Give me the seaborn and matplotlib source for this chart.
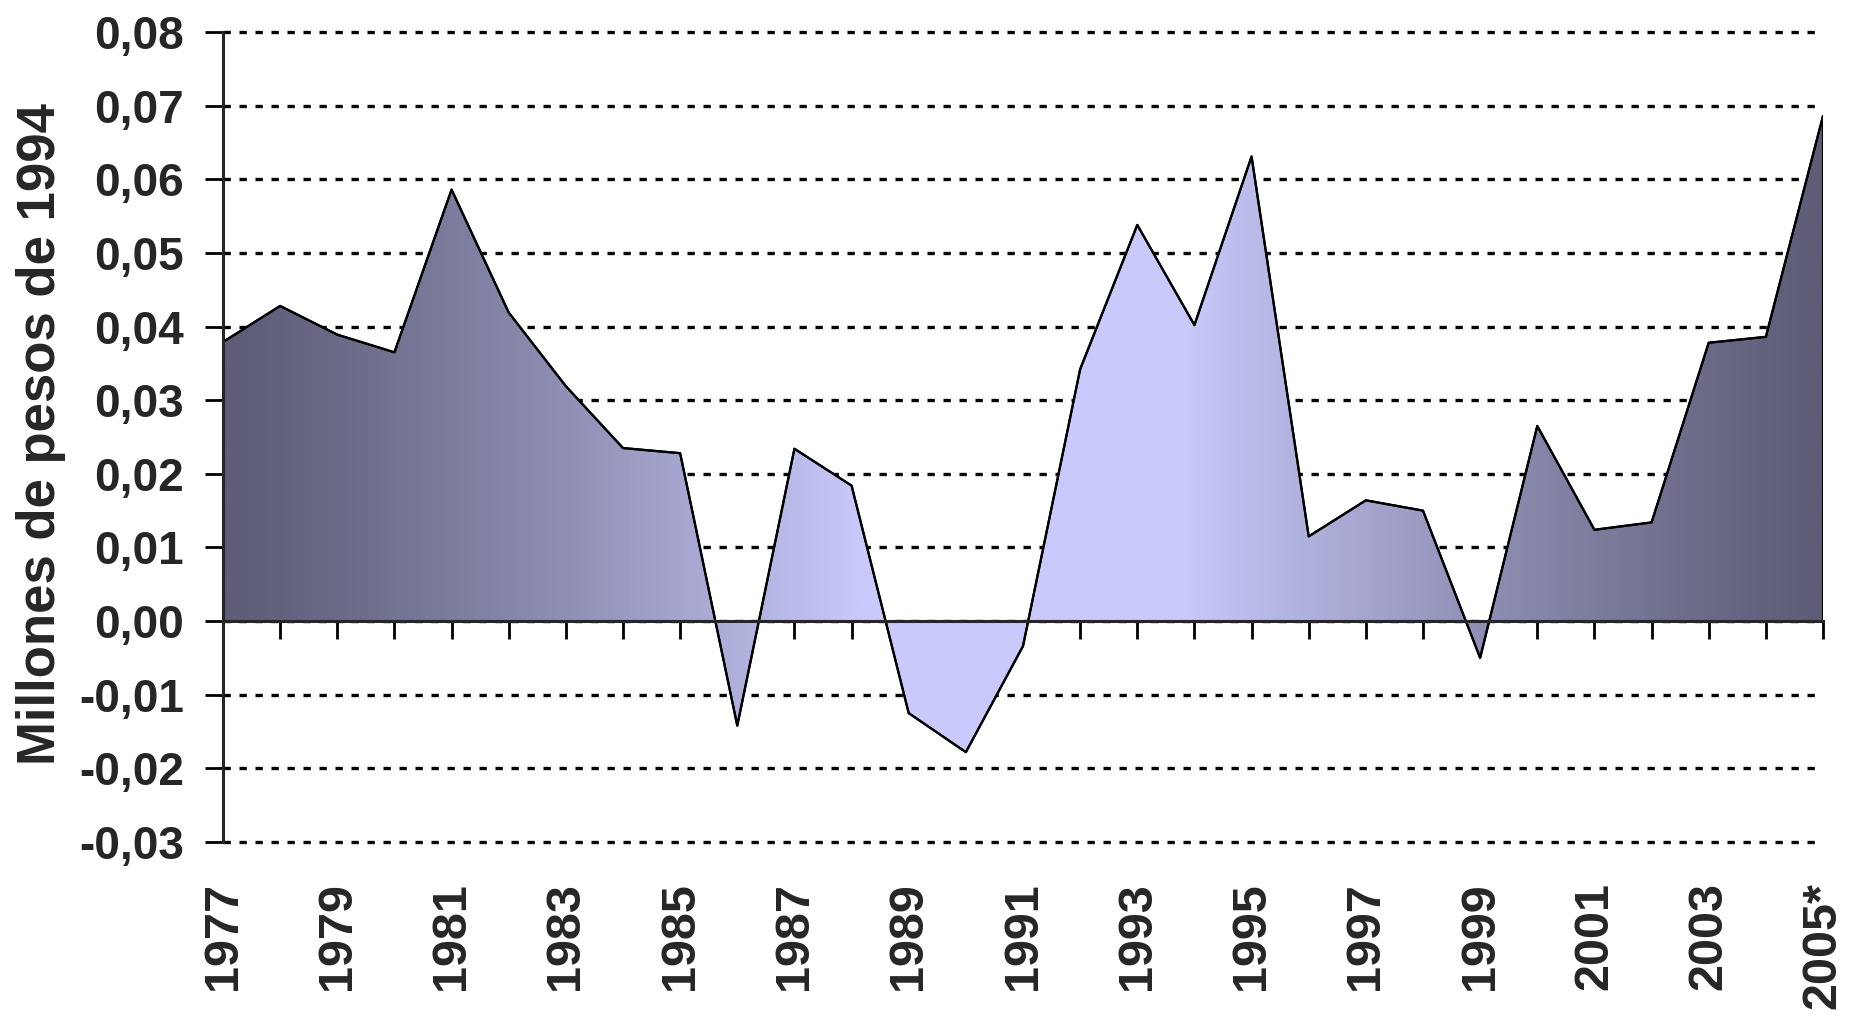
import numpy as np
import pandas as pd
import seaborn as sns
import matplotlib.pyplot as plt
from matplotlib.colors import LinearSegmentedColormap

# datos
anios = list(range(1977, 2006))
valores = [0.0379, 0.0428, 0.0389, 0.0365, 0.0586, 0.0419, 0.0319, 0.0235,
           0.0228, -0.0142, 0.0234, 0.0184, -0.0125, -0.0178, -0.0034,
           0.0342, 0.0538, 0.0402, 0.0631, 0.0115, 0.0164, 0.0150, -0.0050,
           0.0265, 0.0124, 0.0134, 0.0378, 0.0386, 0.0686]
xtick_anios = list(range(1977, 2006, 2))
xtick_labels = ['1977', '1979', '1981', '1983', '1985', '1987', '1989', '1991',
                '1993', '1995', '1997', '1999', '2001', '2003', '2005*']
ytick_vals = [-0.03, -0.02, -0.01, 0.0, 0.01, 0.02, 0.03, 0.04, 0.05, 0.06,
              0.07, 0.08]
ytick_labels = ['-0,03', '-0,02', '-0,01', '0,00', '0,01', '0,02', '0,03',
                '0,04', '0,05', '0,06', '0,07', '0,08']
ylabel = 'Millones de pesos de 1994'

sns.set_style('white')
plt.rcParams['font.family'] = ['Liberation Sans', 'DejaVu Sans']
plt.rcParams['font.weight'] = 'bold'

df = pd.DataFrame({'anio': anios, 'valor': valores})

W, H = 1850, 1017
fig = plt.figure(figsize=(W / 100, H / 100), dpi=100)
ax = fig.add_axes([223 / W, 1 - 842 / H, (1823 - 223) / W, (842 - 32) / H])

# relleno con degradado horizontal (oscuro en los bordes, lavanda al centro)
poly = ax.fill_between(df['anio'], df['valor'], 0, facecolor='none',
                       edgecolor='black', lw=1.6, zorder=3)
cmap = LinearSegmentedColormap.from_list('grad', ['#5d5d77', '#c9c9fb'])
t = np.linspace(0, 1, 800)
frac = np.clip(np.minimum(t, 1 - t) / 0.4, 0, 1) ** 1.2
im = ax.imshow(frac[np.newaxis, :], extent=[anios[0], anios[-1], -0.03, 0.08],
               aspect='auto', cmap=cmap, vmin=0, vmax=1, origin='lower',
               interpolation='bilinear', zorder=2)
im.set_clip_path(poly.get_paths()[0], transform=ax.transData)

sns.lineplot(data=df, x='anio', y='valor', color='black', lw=1.6, ax=ax,
             zorder=4)

ax.set_xlim(anios[0], anios[-1])
ax.set_ylim(-0.03, 0.08)
ax.set_xlabel('')
ax.set_ylabel('')

# ejes
for s in ['top', 'right']:
    ax.spines[s].set_visible(False)
ax.spines['bottom'].set_position(('data', 0))
ax.spines['bottom'].set_linewidth(2.2)
ax.spines['bottom'].set_zorder(5)
ax.spines['left'].set_linewidth(2.2)
ax.spines['left'].set_zorder(5)

ax.set_xticks(anios)
ax.tick_params(axis='x', direction='out', length=13, width=2,
               labelbottom=False, bottom=True, color='black')
ax.set_yticks(ytick_vals, ytick_labels)
ax.tick_params(axis='y', direction='out', length=13, width=2, pad=15,
               labelsize=33, left=True, color='black')

ax.grid(axis='y', color='black', linewidth=2.4, linestyle=(0, (2.2, 2.6)))
ax.grid(axis='x', visible=False)
ax.set_axisbelow(True)
for gl in ax.get_ygridlines():
    gl.set_clip_on(False)

# etiquetas del eje x abajo del area
sec = ax.secondary_xaxis('bottom')
sec.set_xticks(xtick_anios, xtick_labels, rotation=90)
sec.tick_params(length=0, pad=29, labelsize=35)
sec.spines['bottom'].set_visible(False)

fig.text(41 / W, 1 - 434 / H, ylabel, rotation=90, ha='center', va='center',
         fontsize=38, fontweight='bold')

fig.savefig('out.png', dpi=100)
